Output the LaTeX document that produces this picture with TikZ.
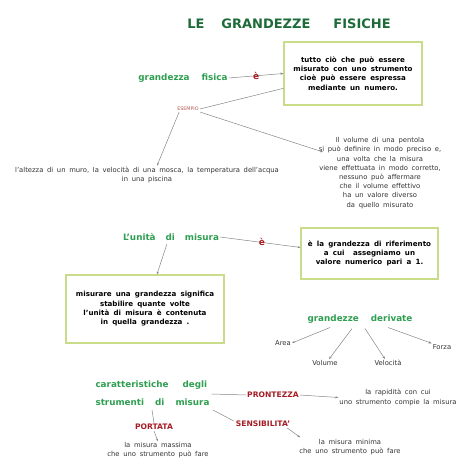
\documentclass[tikz,border=0pt]{standalone}
\usepackage{fontspec}
\setmainfont{DejaVu Sans}[WordSpace=1.7]
\usetikzlibrary{calc,arrows.meta}
\definecolor{titlegreen}{HTML}{1E6B3A}
\definecolor{headgreen}{HTML}{2E9E50}
\definecolor{darkred}{HTML}{A51C24}
\definecolor{exred}{HTML}{B0564E}
\definecolor{boxline}{HTML}{C9DC8A}
\definecolor{conn}{HTML}{858585}
\tikzset{
  body/.style={font=\fontsize{6.8}{9.2}\selectfont, align=center, inner sep=1pt, text=black!80},
  boxed/.style={draw=boxline, line width=1.1pt, font=\bfseries\fontsize{7.1}{9.3}\selectfont, align=center, inner sep=0pt},
  head/.style={font=\bfseries\fontsize{8.8}{18}\selectfont, text=headgreen, inner sep=1pt},
  redlab/.style={font=\bfseries\fontsize{7.6}{9}\selectfont, text=darkred, inner sep=1pt},
  conline/.style={draw=conn, line width=0.5pt},
  arr/.style={conline, -{Stealth[length=3pt,width=2.2pt]}},
}
\begin{document}
\begin{tikzpicture}[x=1pt,y=-1pt]
\useasboundingbox (0,0) rectangle (474,474);
% title
\node[font=\bfseries\fontsize{13}{14}\selectfont, text=titlegreen, inner sep=0pt] (title) at (289,24)
  {LE\hspace{17pt}GRANDEZZE\hspace{23pt}FISICHE};
% grandezza fisica
\node[head] (gf) at (183,78) {grandezza\hspace{12pt}fisica};
\node[boxed, minimum width=138pt, minimum height=63pt] (box1) at (353,73.5)
  {tutto ciò che può essere\\misurato con uno strumento\\cioè può essere espressa\\mediante un numero.};
\draw[arr] (gf.east) -- node[redlab, font=\fontsize{9}{9}\selectfont\bfseries, pos=0.5] (e1) {è} (box1.west);
\node[font=\fontsize{4.8}{6}\selectfont, text=exred, inner sep=1pt] (esempio) at (188,109) {ESEMPIO};
\draw[conline] (esempio.east) -- (box1.192);
\node[body] (alt) at (147,175) {l'altezza di un muro, la velocità di una mosca, la temperatura dell'acqua\\in una piscina};
\coordinate (altin) at ($(alt.north)+(10,0)$);
\draw[arr] (esempio.south west) ++(3,0) -- (altin);
\node[body] (vol) at (380,173) {Il volume di una pentola\\si può definire in modo preciso e,\\una volta che la misura\\viene effettuata in modo corretto,\\nessuno può affermare\\che il volume effettivo\\ha un valore diverso\\da quello misurato};
\coordinate (volin) at (323,152);
\draw[arr] (esempio.south east) -- (volin);
% unita di misura
\node[head] (unita) at (171,237) {L'unità\hspace{10pt}di\hspace{10pt}misura};
\node[boxed, minimum width=137pt, minimum height=51pt] (box2) at (369.5,253.5)
  {è la grandezza di riferimento\\a cui\ \ assegniamo un\\valore numerico pari a 1.};
\draw[arr] (unita.east) -- node[redlab, font=\fontsize{9}{9}\selectfont\bfseries, pos=0.52] (e2) {è} (box2.175);
\node[boxed, minimum width=158pt, minimum height=68pt] (box3) at (145,309)
  {misurare una grandezza significa\\stabilire quante volte\\l'unità di misura è contenuta\\in quella grandezza .};
\draw[arr] ($(unita.south)+(-4,2)$) -- (box3.71);
% grandezze derivate
\node[head] (gd) at (360,319) {grandezze\hspace{12pt}derivate};
\node[body] (area) at (283,343) {Area};
\node[body] (volume) at (325,363) {Volume};
\node[body] (veloc) at (388,363) {Velocità};
\node[body] (forza) at (442,347) {Forza};
\draw[arr] ($(gd.south)+(-30,3)$) -- (area.east);
\draw[arr] ($(gd.south)+(-8,4)$) -- ($(volume.north)+(4,0)$);
\draw[arr] ($(gd.south)+(5,4)$) -- ($(veloc.north)+(-3,0)$);
\draw[arr] ($(gd.south)+(28,3)$) -- (forza.north west);
% caratteristiche
\node[head, align=left] (car) at (152.5,393) {caratteristiche\hspace{14pt}degli\\strumenti\hspace{11pt}di\hspace{11pt}misura};
\node[redlab] (pront) at (273,395) {PRONTEZZA};
\node[body] (rapid) at (398,397.5) {la rapidità con cui\\uno strumento compie la misura};
\draw[conline] ($(car.east)+(1,1)$) -- (pront.west);
\draw[arr] (pront.east) -- (rapid.west);
\node[redlab] (port) at (154,427) {PORTATA};
\node[body] (mass) at (158,450.5) {la misura massima\\che uno strumento può fare};
\draw[conline] (152,410) -- (port.north);
\draw[arr] (port.south) -- (mass.north);
\node[redlab] (sens) at (263,424) {SENSIBILITA'};
\node[body] (mini) at (350,447.5) {la misura minima\\che uno strumento può fare};
\draw[conline] (213,410) -- ($(sens.north west)+(-1,1)$);
\draw[arr] ($(sens.south east)+(-4,0)$) -- ($(mini.north west)+(2,-1)$);
\end{tikzpicture}
\end{document}
